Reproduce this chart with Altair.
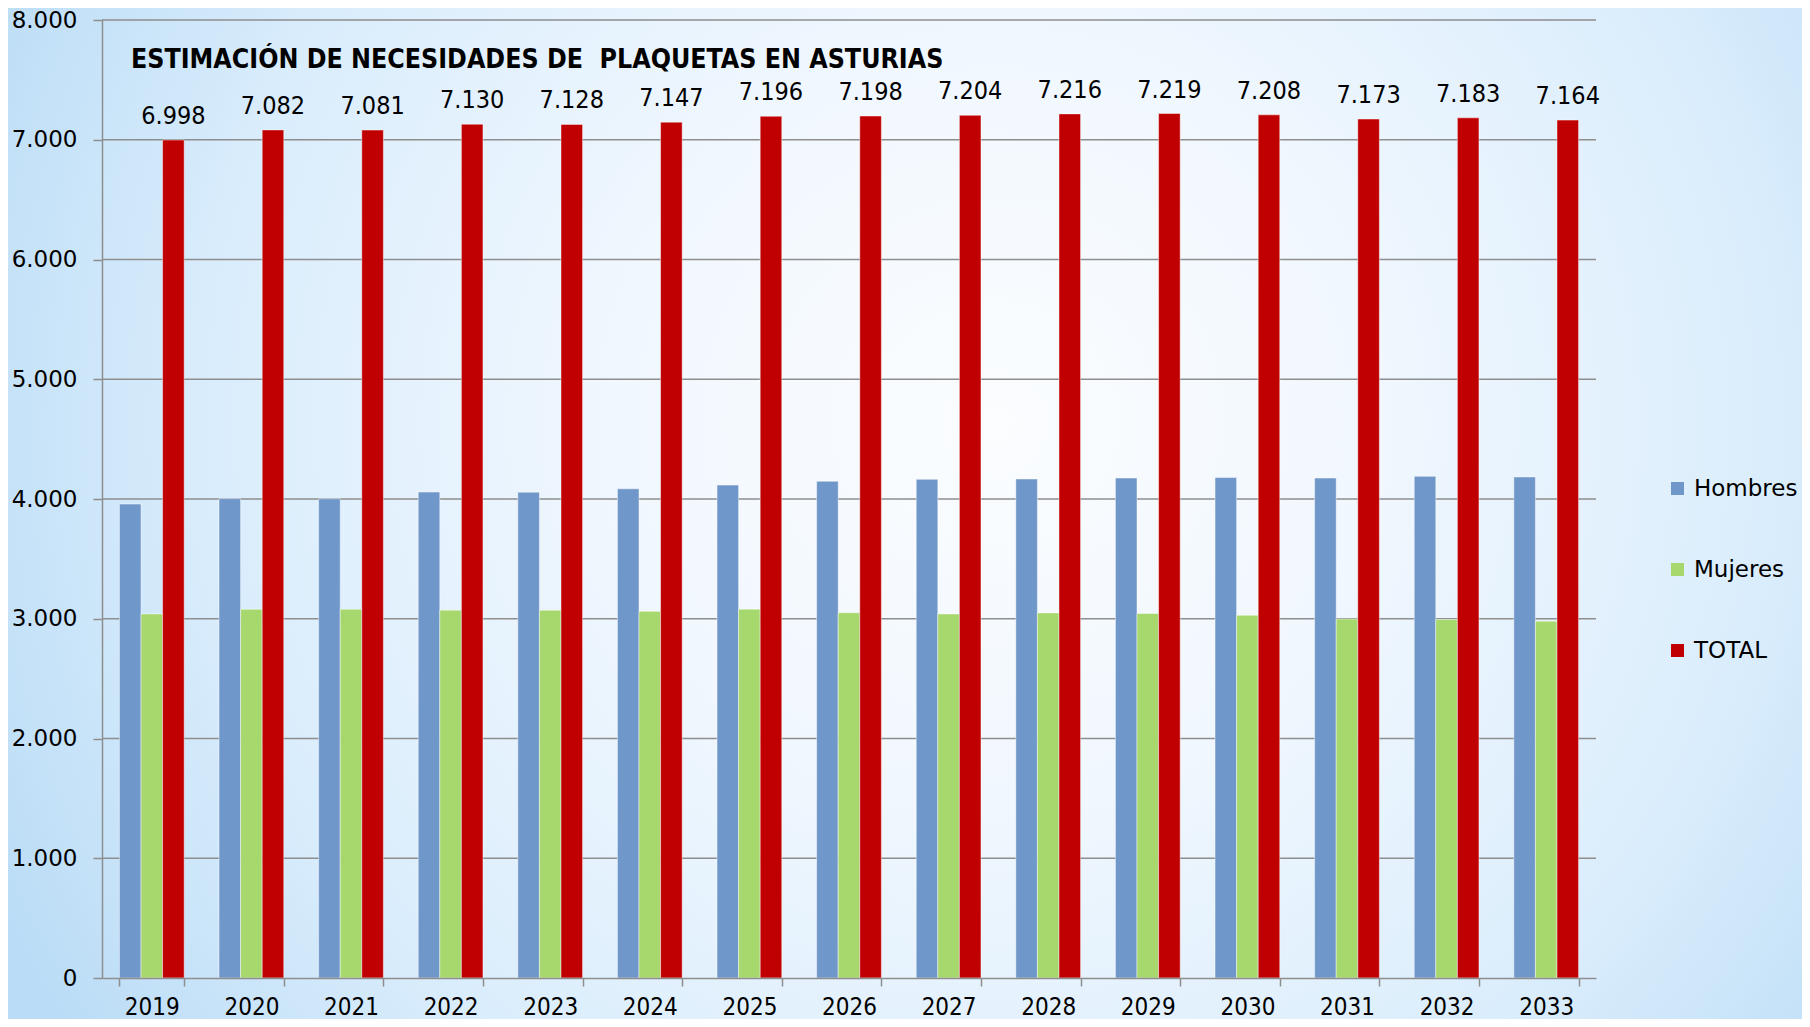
import altair as alt
import pandas as pd

years = ["2019", "2020", "2021", "2022", "2023", "2024", "2025", "2026",
         "2027", "2028", "2029", "2030", "2031", "2032", "2033"]
hombres = [3958, 4003, 4002, 4058, 4057, 4085, 4116, 4148, 4164, 4167, 4175, 4179, 4175, 4189, 4184]
mujeres = [3040, 3079, 3079, 3072, 3071, 3062, 3080, 3050, 3040, 3049, 3044, 3029, 2998, 2994, 2980]
total = [6998, 7082, 7081, 7130, 7128, 7147, 7196, 7198, 7204, 7216, 7219, 7208, 7173, 7183, 7164]
series = ["Hombres", "Mujeres", "TOTAL"]
colors = ["#7097C9", "#A6D86E", "#C00000"]
y_ticks = [0, 1000, 2000, 3000, 4000, 5000, 6000, 7000, 8000]
title_text = "ESTIMACIÓN DE NECESIDADES DE \u00a0PLAQUETAS EN ASTURIAS"

W, H = 1494, 958
PAD = {"left": 94, "top": 12, "right": 206, "bottom": 41}

rows = []
for i, yr in enumerate(years):
    for s, vals in zip(series, [hombres, mujeres, total]):
        v = vals[i]
        rows.append({"year": yr, "serie": s, "valor": v,
                     "label": f"{v:,}".replace(",", ".")})
df = pd.DataFrame(rows)
df_total = df[df["serie"] == "TOTAL"]
grid_df = pd.DataFrame({"v": y_ticks[1:]})

FONT = "DejaVu Sans"
CFONT = "DejaVu Sans Condensed, DejaVu Sans"

yscale = alt.Scale(domain=[0, 8000], nice=False)
xscale = alt.Scale(domain=years, paddingInner=0.35, paddingOuter=0.175)
oscale = alt.Scale(domain=series, paddingInner=0, paddingOuter=0)

y_axis = alt.Axis(title=None, values=y_ticks, grid=False,
                  labelExpr="replace(format(datum.value, ',d'), ',', '.')",
                  tickSize=9, tickWidth=1.5, tickColor="#8E8E8E",
                  domainColor="#8E8E8E", domainWidth=1.5, labelPadding=16,
                  labelFontSize=23, labelFont=FONT, labelColor="black", zindex=1)

gradient = {
    "gradient": "radial",
    "x1": 0.55, "y1": 0.45, "r1": 0.0,
    "x2": 0.55, "y2": 0.45, "r2": 0.62,
    "stops": [
        {"offset": 0.0, "color": "#FBFDFF"},
        {"offset": 0.35, "color": "#F0F7FE"},
        {"offset": 0.7, "color": "#DAEDFC"},
        {"offset": 1.0, "color": "#BADCF6"},
    ],
}

bg = alt.Chart(pd.DataFrame({"a": [0]})).mark_rect(fill=gradient).encode(
    x=alt.value(-PAD["left"]), x2=alt.value(W + PAD["right"]),
    y=alt.value(-PAD["top"]), y2=alt.value(H + PAD["bottom"]),
)

grid = alt.Chart(grid_df).mark_rule(color="#8E8E8E", strokeWidth=1.5).encode(
    y=alt.Y("v:Q", scale=yscale, axis=y_axis)
)

bars = alt.Chart(df).mark_bar(stroke="white", strokeOpacity=0.45, strokeWidth=1).encode(
    x=alt.X("year:N", scale=xscale, sort=years,
            axis=alt.Axis(title=None, labelAngle=0, tickBand="extent", tickSize=8,
                          tickWidth=1.5, tickColor="#8E8E8E", domainColor="#8E8E8E",
                          domainWidth=1.5, labelPadding=9, labelFontSize=24,
                          labelFont=CFONT, labelColor="black", grid=False, zindex=1)),
    xOffset=alt.XOffset("serie:N", scale=oscale, sort=series),
    y=alt.Y("valor:Q", scale=yscale, axis=y_axis),
    color=alt.Color("serie:N", scale=alt.Scale(domain=series, range=colors),
                    legend=alt.Legend(title=None, orient="none", legendX=1564, legendY=457,
                                      symbolType="square", symbolSize=169,
                                      symbolStrokeWidth=0, labelFontSize=23,
                                      labelFont=FONT, labelColor="black", labelOffset=5,
                                      rowPadding=57, padding=0, zindex=1)),
)

labels = alt.Chart(df_total).mark_text(
    align="center", baseline="alphabetic", dy=-16, fontSize=25, font=CFONT, color="black"
).encode(
    x=alt.X("year:N", scale=xscale, sort=years),
    xOffset=alt.XOffset("serie:N", scale=oscale, sort=series),
    y=alt.Y("valor:Q", scale=yscale),
    text="label:N",
)

title_layer = alt.Chart(pd.DataFrame({"t": [title_text]})).mark_text(
    align="left", baseline="alphabetic", fontSize=26.5, fontWeight="bold",
    font=CFONT, color="black"
).encode(x=alt.value(29), y=alt.value(48), text="t:N")

chart = alt.layer(bg, grid, bars, labels, title_layer).properties(
    width=W, height=H,
    autosize=alt.AutoSizeParams(type="none"),
    padding=PAD,
).configure_view(stroke=None).configure(background="#D5EAFA")

chart.save("out.html", embed_options={"renderer": "svg", "actions": False})
